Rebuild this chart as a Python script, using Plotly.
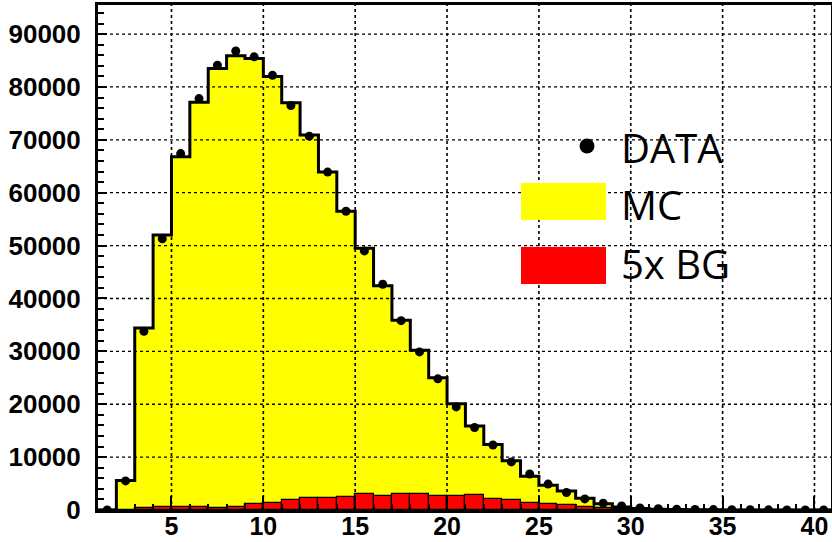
import plotly.graph_objects as go

# bins [n, n+1] for n = 1..40
bin_lo = list(range(1, 41))
mc = [0, 5600, 34400, 52000, 66800, 77100, 83500, 85900, 85400, 82000,
      77000, 70900, 63900, 56500, 49500, 42400, 35900, 30200, 25000, 20100,
      15900, 12400, 9300, 6400, 4700, 3600, 2200, 1200, 580, 300,
      150, 80, 50, 30, 20, 10, 10, 5, 5, 5]
data = [0, 5500, 33800, 51300, 67400, 77800, 84100, 86800, 85700, 82200,
        76500, 70700, 63900, 56500, 49000, 42700, 35800, 29900, 24800, 19500,
        15600, 12300, 9100, 6800, 4900, 3300, 2100, 1300, 750, 380,
        250, 150, 100, 80, 50, 40, 30, 20, 20, 20]
bg5 = [0, 0, 400, 500, 550, 550, 450, 500, 1100, 1400,
       1800, 2300, 2300, 2500, 3000, 2650, 3000, 3100, 2650, 2650,
       2900, 2100, 1900, 1400, 1200, 1000, 500, 300, 200, 100,
       0, 0, 0, 0, 0, 0, 0, 0, 0, 0]

y_ticks = [0, 10000, 20000, 30000, 40000, 50000, 60000, 70000, 80000, 90000]
x_ticks = [5, 10, 15, 20, 25, 30, 35, 40]
legend_labels = ["DATA", "MC", "5x BG"]

W, H = 832, 542
L, R, T, B = 98, 1, 5, 32
PW, PH = W - L - R, H - T - B

def px(x):
    return (x - L) / PW

def py(y):
    return (H - B - y) / PH

centers = [b + 0.5 for b in bin_lo]
step_x = bin_lo + [bin_lo[-1] + 1]
step_y = mc + [mc[-1]]

fig = go.Figure()
fig.add_trace(go.Bar(x=centers, y=mc, width=1, marker=dict(color="#ffff00",
                     line=dict(width=0)), showlegend=False, hoverinfo="skip"))
fig.add_trace(go.Bar(x=centers, y=bg5, width=1, marker=dict(color="#ff0000",
                     line=dict(color="black", width=1.2)), showlegend=False))
fig.add_trace(go.Scatter(x=step_x, y=step_y, mode="lines", line_shape="hv",
                         line=dict(color="black", width=3),
                         showlegend=False, hoverinfo="skip"))
fig.add_trace(go.Scatter(x=centers, y=data, mode="markers",
                         marker=dict(color="black", size=9), showlegend=False,
                         cliponaxis=True))

shapes = []
for xv in x_ticks:
    shapes.append(dict(type="line", xref="x", yref="paper", x0=xv, x1=xv, y0=0, y1=1,
                       line=dict(color="black", width=1.6, dash="dot"), layer="above"))
for yv in y_ticks[1:]:
    shapes.append(dict(type="line", xref="paper", yref="y", x0=0, x1=1, y0=yv, y1=yv,
                       line=dict(color="black", width=1.3, dash="dot"), layer="above"))

# legend
shapes.append(dict(type="circle", xref="paper", yref="paper",
                   x0=px(579.5), x1=px(594.5), y0=py(153.5), y1=py(138.5),
                   fillcolor="black", line=dict(width=0), layer="above"))
shapes.append(dict(type="rect", xref="paper", yref="paper",
                   x0=px(521), x1=px(606), y0=py(220), y1=py(183),
                   fillcolor="#ffff00", line=dict(width=0), layer="above"))
shapes.append(dict(type="rect", xref="paper", yref="paper",
                   x0=px(521), x1=px(606), y0=py(284), y1=py(247),
                   fillcolor="#ff0000", line=dict(width=0), layer="above"))
annotations = []
for lab, yc in zip(legend_labels, [147, 204, 263]):
    annotations.append(dict(text=lab, xref="paper", yref="paper", x=px(619), y=py(yc),
                            xanchor="left", yanchor="middle", showarrow=False,
                            font=dict(family="Open Sans", size=40, color="black")))

tickfont = dict(family="Liberation Sans", size=26, color="black", weight="bold")
xtickfont = dict(family="Liberation Sans", size=25, color="black", weight="bold")
fig.update_layout(
    width=W, height=H, margin=dict(l=L, r=R, t=T, b=B, autoexpand=False),
    paper_bgcolor="white", plot_bgcolor="white",
    barmode="overlay", bargap=0,
    shapes=shapes, annotations=annotations,
    xaxis=dict(range=[1, 40.9], tickvals=x_ticks, ticks="inside", ticklen=14,
               tickwidth=1.5, tickcolor="black", showgrid=False, zeroline=False,
               showline=True, linecolor="black", linewidth=2.5, mirror=True,
               minor=dict(dtick=1, tick0=0, ticks="inside", ticklen=6,
                          tickcolor="black", tickwidth=1.5, showgrid=False),
               tickfont=xtickfont, ticklabelstandoff=-8, layer="above traces",
               automargin=False),
    yaxis=dict(range=[0, 95500], tickvals=y_ticks, tickformat="d", ticks="inside",
               ticklen=9, tickwidth=1.5, tickcolor="black", showgrid=False,
               zeroline=False, showline=True, linecolor="black", linewidth=3,
               mirror=True,
               minor=dict(dtick=2000, tick0=0, ticks="inside", ticklen=6,
                          tickcolor="black", tickwidth=1.5, showgrid=False),
               tickfont=tickfont, ticklabelstandoff=9, layer="above traces",
               automargin=False),
)

fig.write_html("out.html")
